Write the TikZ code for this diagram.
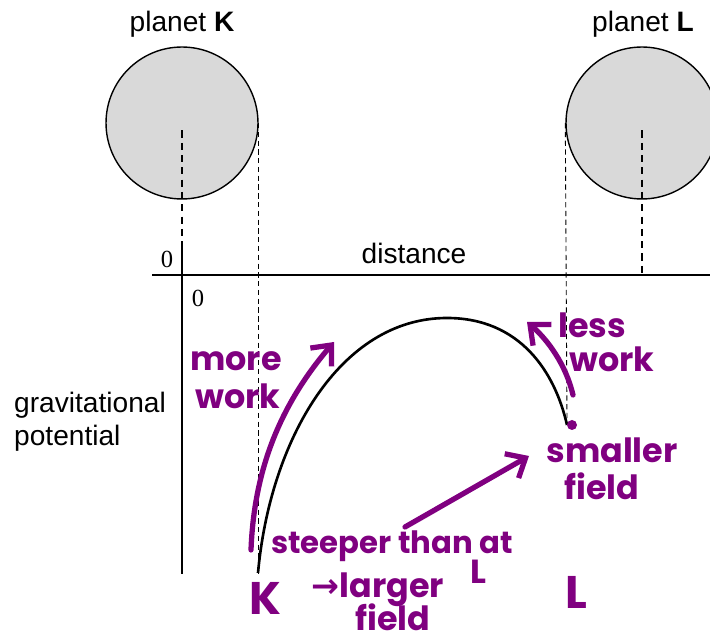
\documentclass[tikz,border=0pt]{standalone}
\usepackage{fontspec}
\setmainfont{Liberation Sans}
\newfontfamily\numfont{Liberation Serif}
\newfontfamily\handfont{Poppins}
\newfontfamily\arrfont{DejaVu Sans}
\usetikzlibrary{arrows.meta}
\definecolor{ink}{RGB}{128,0,128}
\definecolor{planetgrey}{RGB}{217,217,217}

\begin{document}
\begin{tikzpicture}[x=0.02cm,y=-0.02cm,font=\fontsize{16}{19}\selectfont,
 planet/.style={circle,draw,line width=.8pt,fill=planetgrey,minimum size=3.04cm,inner sep=0pt},
 guide/.style={line width=.5pt,dash pattern=on 3pt off 2pt},
 guidec/.style={line width=1pt,dash pattern=on 4pt off 3pt},
 axis/.style={line width=.9pt},
 zero/.style={font=\numfont\fontsize{14}{14}\selectfont,inner sep=0pt},
 note/.style={text=ink,font=\handfont\bfseries\fontsize{19}{19}\selectfont,inner sep=0pt},
 pen/.style={draw=ink,line width=3pt,line cap=round,line join=round},
 penarr/.style={pen,-{Straight Barb[length=3.2mm,width=5.6mm]}}]
\useasboundingbox (0,0) rectangle (710,644);
\clip (0,0) rectangle (710,644);
% planets
\node[planet] (pk) at (182,123) {};
\node[planet] (pl) at (642,123) {};
\node (tk) at (182,24) {planet \textbf{K}};
\node (tl) at (643,24) {planet \textbf{L}};
% axes
\coordinate (xs) at (152,275);
\coordinate (xe) at (710,275);
\coordinate (ys) at (182,247);
\coordinate (ye) at (182,574);
\draw[axis] (xs) -- (xe);
\draw[axis] (ys) -- (ye);
\node[zero] (z1) at (167,259) {0};
\node[zero] (z2) at (198,298) {0};
\node (dist) at (414,253) {distance};
\node[align=left,anchor=west] (gp) at (8,422) {gravitational\\potential};
% guide lines
\draw[guidec] ([yshift=-.15cm]pk.center) -- (pk.center |- xs);
\draw[guidec] ([yshift=-.15cm]pl.center) -- (pl.center |- xs);
\draw[guide] (pk.east) -- (pk.east |- ye);
\coordinate (lend) at (567,425);
\draw[guide] (pl.west) -- (lend);
% potential curve
\coordinate (kend) at (258,573);
\coordinate (top) at (447,318);
\draw[line width=1.5pt] (kend) .. controls (270,440) and (340,318) .. (top)
  .. controls (520,318) and (555,372) .. (lend);
% annotations
\node[note] (more) at (236,361) {more};
\node[note] (work1) at (238,396) {work};
\node[note] (less) at (592,325) {less};
\node[note] (work2) at (612,359) {work};
\node[note] (small) at (612,450) {smaller};
\node[note] (field1) at (602,486) {field};
\node[note,font=\handfont\bfseries\fontsize{17.5}{17.5}\selectfont] (steep) at (392,546) {steeper than at};
\node[note] (lsmall) at (478,572) {L};
\node[note,font=\handfont\bfseries\fontsize{26}{26}\selectfont] (kbig) at (265,598) {K};
\node[note] (larger) at (378,590) {{\arrfont\bfseries →}larger};
\node[note] (field2) at (393,617) {field};
\node[note,font=\handfont\bfseries\fontsize{26}{26}\selectfont] (lbig) at (576,592) {L};
\fill[ink] (572,425) circle (5);
\coordinate (mwfoot) at (251,550);
\coordinate (mwtip) at (334,342);
\draw[penarr] (mwfoot) .. controls (254,470) and (280,405) .. (mwtip);
\coordinate (lwfoot) at (573,395);
\coordinate (lwtip) at (527,322);
\draw[penarr] (lwfoot) .. controls (566,365) and (548,340) .. (lwtip);
\coordinate (stfoot) at (405,527);
\coordinate (sttip) at (529,456);
\draw[penarr] (stfoot) -- (sttip);
\end{tikzpicture}
\end{document}
